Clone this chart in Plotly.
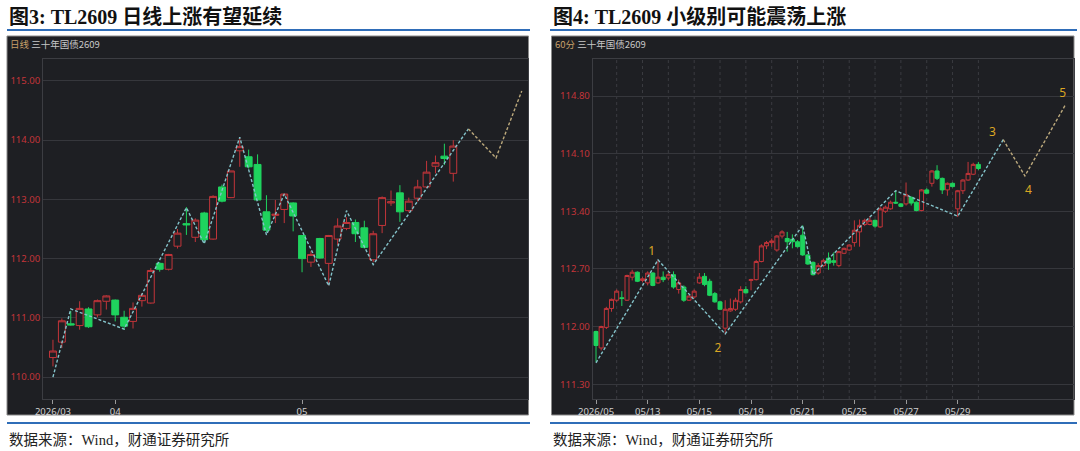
import plotly.graph_objects as go

W, H = 1080, 451

# ---------------- Panel 1: daily candles (TL2609) ----------------
d_open  = [110.33, 110.59, 110.90, 110.87, 111.15, 111.05, 111.28, 111.30, 111.01, 110.94,
           111.29, 111.25, 111.92, 111.82, 112.21, 112.59, 112.36, 112.77, 112.33, 113.21,
           113.03, 113.82, 113.72, 113.59, 112.79, 112.73, 112.83, 112.94, 112.39, 111.94,
           112.34, 111.92, 112.33, 112.51, 112.61, 112.52, 111.98, 112.56, 112.94, 113.11,
           112.81, 113.02, 113.21, 113.56, 113.73, 113.44]
d_high  = [110.63, 110.99, 111.12, 111.28, 111.18, 111.31, 111.38, 111.31, 111.12, 111.26,
           111.42, 111.84, 111.94, 112.08, 112.50, 112.87, 112.68, 112.79, 113.07, 113.25,
           113.48, 114.03, 113.84, 113.76, 113.07, 112.99, 113.10, 112.95, 112.40, 112.13,
           112.35, 112.40, 112.68, 112.70, 112.66, 112.64, 112.47, 113.05, 113.15, 113.24,
           113.03, 113.33, 113.65, 113.74, 113.94, 114.00]
d_low   = [110.18, 110.49, 110.87, 110.80, 110.83, 111.01, 111.14, 110.94, 110.80, 110.82,
           111.19, 111.24, 111.78, 111.80, 112.17, 112.40, 112.28, 112.26, 112.32, 112.95,
           113.02, 113.55, 113.52, 112.99, 112.45, 112.60, 112.60, 112.46, 111.77, 111.86,
           112.00, 111.55, 112.23, 112.48, 112.28, 112.17, 111.94, 112.43, 112.89, 112.62,
           112.78, 112.96, 113.19, 113.44, 113.58, 113.30]
d_close = [110.44, 110.95, 110.88, 111.16, 110.85, 111.29, 111.37, 111.05, 110.86, 111.16,
           111.38, 111.80, 111.82, 112.07, 112.43, 112.57, 112.65, 112.32, 113.05, 112.97,
           113.48, 113.89, 113.55, 112.99, 112.48, 112.75, 113.09, 112.72, 112.00, 112.07,
           112.01, 112.39, 112.55, 112.61, 112.42, 112.19, 112.42, 113.03, 112.96, 112.79,
           112.97, 113.21, 113.46, 113.62, 113.69, 113.90]
d_tickvals = [0, 7, 28]
d_ticktext = ["2026/03", "04", "05"]
d_yticks = [110, 111, 112, 113, 114, 115]
d_wave_x = [0, 2, 8, 15, 17, 21, 24, 26, 31, 33, 36, 46.7]
d_wave_y = [110.00, 111.15, 110.81, 112.86, 112.25, 114.05, 112.40, 113.09, 111.54, 112.81, 111.90, 114.19]
d_proj_x = [46.7, 49.8, 52.7]
d_proj_y = [114.19, 113.70, 114.83]

# ---------------- Panel 2: 60-minute candles ----------------
m_open  = [111.94, 111.74, 111.99, 112.22, 112.32, 112.35, 112.32, 112.60, 112.66, 112.56,
           112.53, 112.65, 112.53, 112.60, 112.59, 112.63, 112.45, 112.48, 112.32, 112.36,
           112.53, 112.61, 112.55, 112.40, 112.30, 111.98, 112.19, 112.21, 112.30, 112.45,
           112.56, 112.57, 112.79, 112.98, 113.02, 112.93, 113.10, 113.07, 113.06, 113.03,
           113.11, 112.87, 112.78, 112.65, 112.74, 112.83, 112.80, 112.74, 112.89, 112.93,
           113.02, 113.15, 113.24, 113.24, 113.29, 113.21, 113.40, 113.43, 113.51, 113.49,
           113.49, 113.57, 113.51, 113.41, 113.66, 113.74, 113.89, 113.80, 113.66, 113.74,
           113.43, 113.65, 113.78, 113.85, 113.97]
m_high  = [111.95, 112.01, 112.24, 112.34, 112.45, 112.43, 112.63, 112.69, 112.67, 112.60,
           112.67, 112.66, 112.81, 112.67, 112.66, 112.67, 112.57, 112.50, 112.38, 112.45,
           112.65, 112.65, 112.58, 112.42, 112.31, 112.32, 112.34, 112.35, 112.49, 112.49,
           112.58, 112.81, 113.00, 113.04, 113.07, 113.11, 113.17, 113.15, 113.12, 113.05,
           113.23, 112.88, 112.79, 112.77, 112.82, 112.90, 112.90, 112.92, 112.96, 113.00,
           113.29, 113.30, 113.31, 113.34, 113.30, 113.45, 113.47, 113.53, 113.65, 113.50,
           113.75, 113.58, 113.52, 113.67, 113.68, 113.90, 113.96, 113.81, 113.75, 113.75,
           113.66, 113.79, 114.00, 113.99, 114.00]
m_low   = [111.57, 111.71, 111.97, 112.18, 112.30, 112.25, 112.31, 112.56, 112.54, 112.54,
           112.50, 112.49, 112.52, 112.54, 112.56, 112.46, 112.40, 112.30, 112.31, 112.34,
           112.52, 112.49, 112.37, 112.29, 112.20, 111.91, 112.18, 112.19, 112.28, 112.40,
           112.44, 112.56, 112.78, 112.94, 112.97, 112.91, 113.07, 112.91, 112.95, 112.96,
           112.86, 112.75, 112.62, 112.63, 112.72, 112.69, 112.74, 112.72, 112.88, 112.92,
           112.97, 112.97, 113.22, 113.23, 113.20, 113.20, 113.38, 113.42, 113.49, 113.45,
           113.47, 113.47, 113.40, 113.40, 113.61, 113.70, 113.78, 113.61, 113.59, 113.69,
           113.33, 113.61, 113.77, 113.84, 113.90]
m_close = [111.77, 112.00, 112.22, 112.33, 112.43, 112.34, 112.62, 112.66, 112.55, 112.58,
           112.65, 112.50, 112.60, 112.57, 112.63, 112.48, 112.53, 112.32, 112.37, 112.43,
           112.60, 112.51, 112.38, 112.30, 112.21, 112.21, 112.22, 112.32, 112.45, 112.41,
           112.57, 112.79, 112.98, 113.02, 113.04, 113.10, 113.15, 113.03, 113.03, 112.97,
           112.87, 112.76, 112.63, 112.74, 112.80, 112.77, 112.78, 112.91, 112.95, 112.99,
           113.17, 113.23, 113.29, 113.29, 113.22, 113.43, 113.45, 113.51, 113.50, 113.46,
           113.60, 113.50, 113.41, 113.66, 113.62, 113.89, 113.80, 113.66, 113.74, 113.70,
           113.65, 113.78, 113.86, 113.97, 113.92]
m_bars_per_day = 5
m_tickvals = [0, 10, 20, 30, 40, 50, 60, 70]
m_ticktext = ["2026/05", "05/13", "05/15", "05/19", "05/21", "05/25", "05/27", "05/29"]
m_yticks = [111.30, 112.00, 112.70, 113.40, 114.10, 114.80]
m_wave_x = [0, 12, 25, 40, 42, 58, 70, 78.8]
m_wave_y = [111.56, 112.81, 111.91, 113.23, 112.63, 113.65, 113.34, 114.27]
m_proj_x = [78.8, 83.0, 90.9]
m_proj_y = [114.27, 113.83, 114.70]
m_label_text = ["1", "2", "3", "4", "5"]
m_label_x = [10.8, 23.6, 76.7, 83.7, 90.3]
m_label_y = [112.90, 111.73, 114.35, 113.65, 114.83]

# ---------------- styles ----------------
BG = "#1e1f23"
GRID = "#36373c"
RED = "#c3353a"
GREEN = "#1fd35e"
TEAL = "#84c3ca"
TAN = "#bca97c"
GOLD = "#dba623"
BLUE = "#2f6db8"
TICKFONT = "Noto Sans, Open Sans, sans-serif"
TITLEFONT = "Liberation Serif, Noto Sans CJK SC, serif"


def px_x(x):
    return x / W


def px_y(y):
    return 1 - y / H


fig = go.Figure()

n1 = len(d_open)
fig.add_trace(go.Candlestick(
    x=list(range(n1)), open=d_open, high=d_high, low=d_low, close=d_close,
    increasing=dict(line=dict(color=RED, width=1), fillcolor=BG),
    decreasing=dict(line=dict(color=GREEN, width=1), fillcolor=GREEN),
    xaxis="x", yaxis="y", showlegend=False, hoverinfo="skip"))
fig.add_trace(go.Scatter(x=d_wave_x, y=d_wave_y, mode="lines",
                         line=dict(color=TEAL, width=1.4, dash="3px,2px"),
                         xaxis="x", yaxis="y", showlegend=False, hoverinfo="skip"))
fig.add_trace(go.Scatter(x=d_proj_x, y=d_proj_y, mode="lines",
                         line=dict(color=TAN, width=1.4, dash="3px,2px"),
                         xaxis="x", yaxis="y", showlegend=False, hoverinfo="skip"))

n2 = len(m_open)
fig.add_trace(go.Candlestick(
    x=list(range(n2)), open=m_open, high=m_high, low=m_low, close=m_close,
    increasing=dict(line=dict(color=RED, width=1), fillcolor=BG),
    decreasing=dict(line=dict(color=GREEN, width=1), fillcolor=GREEN),
    xaxis="x2", yaxis="y2", showlegend=False, hoverinfo="skip"))
fig.add_trace(go.Scatter(x=m_wave_x, y=m_wave_y, mode="lines",
                         line=dict(color=TEAL, width=1.4, dash="3px,2px"),
                         xaxis="x2", yaxis="y2", showlegend=False, hoverinfo="skip"))
fig.add_trace(go.Scatter(x=m_proj_x, y=m_proj_y, mode="lines",
                         line=dict(color=TAN, width=1.4, dash="3px,2px"),
                         xaxis="x2", yaxis="y2", showlegend=False, hoverinfo="skip"))
fig.add_trace(go.Scatter(x=m_label_x, y=m_label_y, mode="text", text=m_label_text,
                         textfont=dict(color=GOLD, size=12, family=TICKFONT),
                         xaxis="x2", yaxis="y2", showlegend=False, hoverinfo="skip"))

ydom = [px_y(399), px_y(59)]
axis_common = dict(showline=True, linecolor="#3c3d42", linewidth=1, mirror=True,
                   zeroline=False, fixedrange=True, automargin=False)

shapes = []
# dark panels
for x0, x1 in [(7, 528.5), (551.5, 1074)]:
    shapes.append(dict(type="rect", xref="paper", yref="paper", layer="below",
                       x0=px_x(x0), x1=px_x(x1), y0=px_y(415), y1=px_y(36),
                       fillcolor=BG, line=dict(color="#8a8a8a", width=1)))
# blue rules
for x0, x1 in [(7, 530), (550, 1077)]:
    for yy in [30, 423]:
        shapes.append(dict(type="line", xref="paper", yref="paper",
                           x0=px_x(x0), x1=px_x(x1), y0=px_y(yy), y1=px_y(yy),
                           line=dict(color=BLUE, width=2)))
# dotted day grid in panel 2
for d in range(n2 // m_bars_per_day):
    xv = d * m_bars_per_day + (m_bars_per_day - 1)
    shapes.append(dict(type="line", xref="x2", yref="y2 domain", x0=xv, x1=xv, y0=0, y1=1,
                       line=dict(color="#3a3b40", width=1, dash="dot"), layer="below"))

annotations = [
    dict(text="<b>图3: TL2609 日线上涨有望延续</b>", x=px_x(7), y=px_y(17), xref="paper", yref="paper",
         xanchor="left", yanchor="middle", showarrow=False,
         font=dict(family=TITLEFONT, size=20, color="#111")),
    dict(text="<b>图4: TL2609 小级别可能震荡上涨</b>", x=px_x(551), y=px_y(17), xref="paper", yref="paper",
         xanchor="left", yanchor="middle", showarrow=False,
         font=dict(family=TITLEFONT, size=20, color="#111")),
    dict(text="数据来源：Wind，财通证券研究所", x=px_x(7), y=px_y(440), xref="paper", yref="paper",
         xanchor="left", yanchor="middle", showarrow=False,
         font=dict(family=TITLEFONT, size=14.5, color="#222")),
    dict(text="数据来源：Wind，财通证券研究所", x=px_x(551), y=px_y(440), xref="paper", yref="paper",
         xanchor="left", yanchor="middle", showarrow=False,
         font=dict(family=TITLEFONT, size=14.5, color="#222")),
    dict(text="<span style='color:#c8a06a'>日线</span> 三十年国债2609", x=px_x(8), y=px_y(44),
         xref="paper", yref="paper", xanchor="left", yanchor="middle", showarrow=False,
         font=dict(family="Noto Sans CJK SC, sans-serif", size=9.5, color="#c8c8c8")),
    dict(text="<span style='color:#c8a06a'>60分</span> 三十年国债2609", x=px_x(553), y=px_y(44),
         xref="paper", yref="paper", xanchor="left", yanchor="middle", showarrow=False,
         font=dict(family="Noto Sans CJK SC, sans-serif", size=9.5, color="#c8c8c8")),
]

fig.update_layout(
    width=W, height=H, margin=dict(l=0, r=0, t=0, b=0, pad=0, autoexpand=False),
    paper_bgcolor="white", plot_bgcolor=BG,
    showlegend=False, hovermode=False,
    boxgap=0.12, boxgroupgap=0.12,
    xaxis=dict(domain=[px_x(43), px_x(528)], range=[-1.12, 53.4], anchor="y",
               tickvals=d_tickvals, ticktext=d_ticktext, showgrid=False,
               ticks="outside", ticklen=4, tickcolor="#9a9a9a",
               tickfont=dict(family=TICKFONT, size=9.5, color="#cfcfcf"),
               rangeslider=dict(visible=False), **axis_common),
    yaxis=dict(domain=ydom, range=[109.63, 115.37], anchor="x",
               tickvals=d_yticks, tickformat=".2f", showgrid=True, gridcolor=GRID,
               tickfont=dict(family=TICKFONT, size=9.5, color=RED), ticks="",
               **axis_common),
    xaxis2=dict(domain=[px_x(592.7), px_x(1074)], range=[-0.64, 92.5], anchor="y2",
                tickvals=m_tickvals, ticktext=m_ticktext, showgrid=False,
                ticks="outside", ticklen=4, tickcolor="#9a9a9a",
                tickfont=dict(family=TICKFONT, size=9.5, color="#cfcfcf"),
                rangeslider=dict(visible=False), **axis_common),
    yaxis2=dict(domain=ydom, range=[111.12, 115.25], anchor="x2",
                tickvals=m_yticks, tickformat=".2f", showgrid=True, gridcolor=GRID,
                tickfont=dict(family=TICKFONT, size=9.5, color=RED), ticks="",
                **axis_common),
    shapes=shapes, annotations=annotations,
)

fig.write_html("out.html")
